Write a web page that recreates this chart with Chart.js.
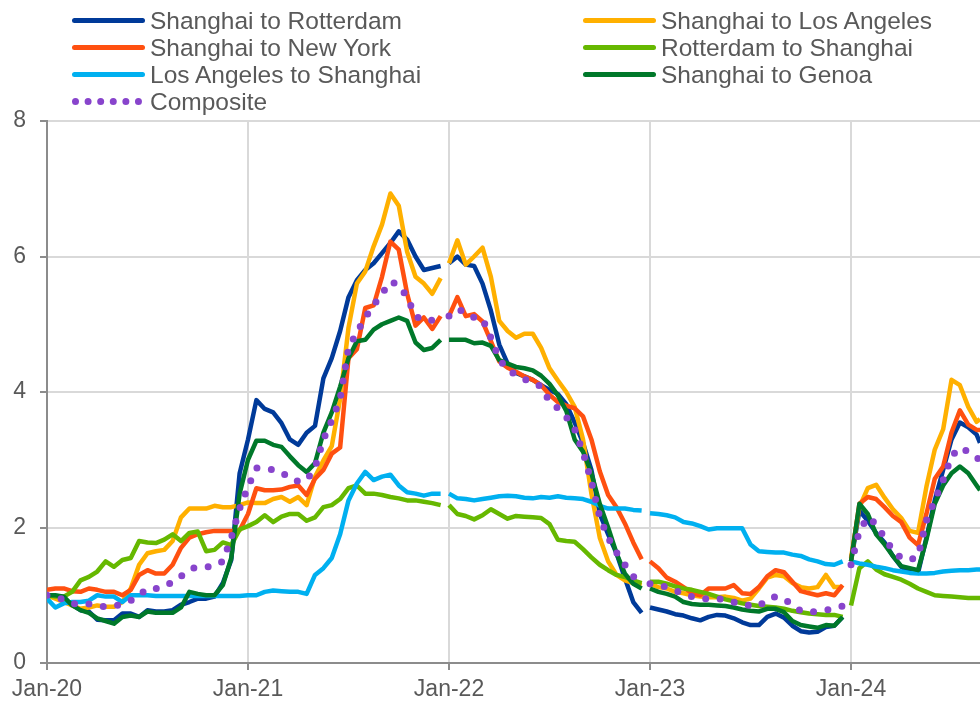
<!DOCTYPE html>
<html>
<head>
<meta charset="utf-8">
<title>Container freight rates</title>
<script src="https://cdn.jsdelivr.net/npm/chart.js@4.4.1/dist/chart.umd.min.js"></script>
<style>
  html, body { margin: 0; padding: 0; background: #fff; }
  #wrap { position: relative; width: 980px; height: 701px; overflow: hidden; }
  #legend { position: absolute; left: 0; top: 0; width: 980px; height: 120px;
            font: 24.5px "Liberation Sans", Arial, sans-serif; color: #595959; }
  .item { position: absolute; display: flex; align-items: center; height: 27px; white-space: nowrap; }
  .swatch { width: 73px; height: 5px; border-radius: 3px; margin-right: 5px; }
  .swatch.dots { height: 0; border-radius: 0; border-top: 7px dotted; width: 70px; margin-right: 8px; }
</style>
</head>
<body>
<div id="wrap">
  <canvas id="chart" width="980" height="701" role="img"
    aria-label="Container freight rate indices by route, Jan 2020 to mid 2024"></canvas>
  <div id="legend"></div>
</div>
<script>
// half-month steps from Jan-20, last point is the right edge of the plot
const months = [...Array(112).keys()].map(i => i / 2).concat(55.7)
// holiday breaks in the weekly data around each new year
const yearBreaks = [23.95, 35.95, 47.95]
const yearTicks = [0, 12, 24, 36, 48]
const tickLabels = ['Jan-20', 'Jan-21', 'Jan-22', 'Jan-23', 'Jan-24']

const shanghaiRotterdam = [
  1.0, 0.98, 0.95, 0.86, 0.78, 0.76, 0.64, 0.63, 0.63, 0.73, 0.73, 0.68, 0.78, 0.76, 0.76, 0.78, 0.86, 0.9, 0.95, 0.95, 0.98, 1.18, 1.52, 2.8,
  3.3, 3.88, 3.75, 3.7, 3.54, 3.3, 3.22, 3.4, 3.5, 4.2, 4.5, 4.9, 5.4, 5.65, 5.8, 5.9, 6.05, 6.2, 6.37, 6.25, 6.0, 5.8, 5.83, 5.86,
  5.9, 6.0, 5.88, 5.86, 5.6, 5.2, 4.7, 4.42, 4.28, 4.23, 4.18, 4.1, 4.03, 3.97, 3.82, 3.55, 3.25, 2.85, 2.2, 1.9, 1.62, 1.25, 0.9, 0.74,
  0.82, 0.79, 0.76, 0.72, 0.7, 0.66, 0.63, 0.68, 0.71, 0.7, 0.66, 0.6, 0.56, 0.56, 0.68, 0.73, 0.67, 0.55, 0.47, 0.45, 0.46, 0.53, 0.55, 0.68,
  1.5, 2.25, 2.1, 1.92, 1.78, 1.58, 1.42, 1.35, 1.33, 1.85, 2.4, 2.85, 3.3, 3.55, 3.48, 3.37, 3.25
]
const shanghaiLosAngeles = [
  1.0, 0.95, 0.9, 0.85, 0.8, 0.82, 0.85, 0.83, 0.83, 0.9, 1.1, 1.45, 1.62, 1.65, 1.67, 1.8, 2.15, 2.28, 2.28, 2.28, 2.32, 2.3, 2.3, 2.33,
  2.37, 2.36, 2.36, 2.42, 2.45, 2.38, 2.45, 2.33, 2.75, 2.99, 3.2, 3.9, 4.95, 5.6, 5.78, 6.15, 6.47, 6.93, 6.75, 6.07, 5.7, 5.6, 5.45, 5.68,
  5.9, 6.24, 5.88, 6.0, 6.13, 5.7, 5.05, 4.9, 4.8, 4.86, 4.86, 4.65, 4.35, 4.17, 4.0, 3.78, 3.3, 2.5, 1.85, 1.5, 1.3, 1.22, 1.18, 1.15,
  1.17, 1.12, 1.1, 1.05, 1.03, 1.0, 0.98, 0.97, 0.97, 0.98, 0.96, 0.92, 0.95, 1.1, 1.26, 1.3, 1.28, 1.18, 1.12, 1.1, 1.12, 1.3, 1.12, 1.12,
  1.55, 2.3, 2.58, 2.63, 2.44, 2.27, 2.14, 1.95, 1.92, 2.6, 3.15, 3.45, 4.18, 4.1, 3.78, 3.56, 3.6
]
const shanghaiNewYork = [
  1.08, 1.1, 1.1, 1.06, 1.05, 1.1, 1.08, 1.05, 1.05, 1.0, 1.08, 1.3, 1.37, 1.32, 1.32, 1.45, 1.7, 1.85, 1.9, 1.93, 1.95, 1.95, 1.95, 1.96,
  2.2, 2.58, 2.55, 2.55, 2.56, 2.6, 2.62, 2.48, 2.72, 2.85, 3.09, 3.18, 4.5, 4.63, 5.24, 5.28, 5.7, 6.22, 6.1, 5.45, 4.98, 5.1, 4.93, 5.12,
  5.12, 5.4, 5.12, 5.15, 5.04, 4.75, 4.45, 4.36, 4.3, 4.23, 4.18, 4.1, 3.96, 3.85, 3.8, 3.76, 3.64, 3.3, 2.83, 2.48, 2.3, 2.06, 1.78, 1.53,
  1.5, 1.4, 1.26, 1.2, 1.12, 1.03, 1.0, 1.1, 1.1, 1.1, 1.15, 1.03, 1.02, 1.12, 1.28, 1.37, 1.34, 1.2, 1.06, 1.03, 1.0, 1.03, 1.0, 1.15,
  1.5, 2.35, 2.45, 2.42, 2.3, 2.17, 2.08, 1.85, 1.74, 2.2, 2.72, 2.9, 3.4, 3.73, 3.52, 3.44, 3.44
]
const rotterdamShanghai = [
  1.0, 0.98, 0.98, 1.05, 1.22, 1.27, 1.35, 1.5, 1.42, 1.52, 1.55, 1.8, 1.78, 1.77, 1.82, 1.9, 1.8, 1.92, 1.94, 1.65, 1.67, 1.78, 1.74, 1.97,
  2.02, 2.08, 2.18, 2.08, 2.16, 2.2, 2.2, 2.1, 2.15, 2.3, 2.33, 2.42, 2.58, 2.62, 2.5, 2.5, 2.48, 2.45, 2.43, 2.4, 2.4, 2.38, 2.36, 2.33,
  2.33, 2.2, 2.17, 2.12, 2.18, 2.27, 2.2, 2.13, 2.17, 2.16, 2.15, 2.14, 2.05, 1.82, 1.8, 1.79, 1.68, 1.56, 1.45, 1.37, 1.3, 1.27, 1.22, 1.18,
  1.2, 1.2, 1.17, 1.13, 1.1, 1.08, 1.05, 1.02, 0.98, 0.94, 0.91, 0.88, 0.86, 0.84, 0.83, 0.82, 0.8, 0.77, 0.75, 0.73, 0.72, 0.71, 0.71, 0.68,
  0.85, 1.4, 1.5, 1.38, 1.31, 1.27, 1.23, 1.17, 1.1, 1.05, 1.0, 0.99, 0.98, 0.97, 0.96, 0.96, 0.96
]
const losAngelesShanghai = [
  0.95, 0.82, 0.88, 0.9, 0.9, 0.92, 1.0, 0.98, 0.98, 0.9, 1.0, 1.0, 1.0, 0.99, 0.99, 0.99, 0.99, 0.99, 0.99, 0.99, 0.99, 0.99, 0.99, 0.99,
  1.0, 1.0, 1.05, 1.07, 1.06, 1.05, 1.05, 1.02, 1.3, 1.4, 1.55, 1.9, 2.4, 2.65, 2.82, 2.7, 2.75, 2.78, 2.62, 2.52, 2.5, 2.47, 2.5, 2.5,
  2.5, 2.43, 2.42, 2.4, 2.42, 2.44, 2.46, 2.47, 2.46, 2.44, 2.43, 2.45, 2.44, 2.46, 2.44, 2.43, 2.42, 2.38, 2.32, 2.28, 2.28, 2.28, 2.26, 2.25,
  2.21, 2.2, 2.18, 2.15, 2.08, 2.06, 2.02, 1.97, 1.99, 1.99, 1.99, 1.99, 1.75, 1.65, 1.64, 1.63, 1.63, 1.6, 1.58, 1.53, 1.5, 1.46, 1.45, 1.5,
  1.5, 1.47, 1.45, 1.42, 1.4, 1.37, 1.35, 1.33, 1.32, 1.32, 1.33, 1.35, 1.36, 1.37, 1.37, 1.38, 1.38
]
const shanghaiGenoa = [
  1.0, 1.0, 0.98, 0.85, 0.78, 0.74, 0.66, 0.62, 0.58, 0.68, 0.7, 0.68, 0.76, 0.74, 0.74, 0.74, 0.82, 1.05, 1.02, 1.0, 1.0, 1.15, 1.55, 2.5,
  3.0, 3.28, 3.28, 3.22, 3.19, 3.05, 2.92, 2.82, 2.95, 3.4, 3.7, 4.08, 4.5, 4.75, 4.77, 4.92, 5.0, 5.05, 5.1, 5.05, 4.73, 4.62, 4.65, 4.77,
  4.77, 4.77, 4.77, 4.72, 4.73, 4.68, 4.47, 4.42, 4.37, 4.35, 4.32, 4.24, 4.12, 3.95, 3.72, 3.3, 3.12, 2.8, 2.35, 2.0, 1.62, 1.32, 1.17, 1.1,
  1.1, 1.05, 1.02, 0.98, 0.9, 0.87, 0.86, 0.86, 0.85, 0.84, 0.82, 0.79, 0.77, 0.76, 0.8, 0.8, 0.75, 0.62, 0.56, 0.54, 0.52, 0.56, 0.55, 0.68,
  1.5, 2.35, 2.2, 1.9, 1.75, 1.58, 1.43, 1.4, 1.37, 1.82, 2.35, 2.62, 2.8, 2.9, 2.8, 2.62, 2.55
]
const composite = [
  1.0, 0.97, 0.94, 0.88, 0.86, 0.87, 0.85, 0.83, 0.84, 0.87, 0.92, 1.0, 1.1, 1.1, 1.12, 1.2, 1.28, 1.38, 1.42, 1.42, 1.43, 1.5, 1.85, 2.28,
  2.6, 2.88, 2.87, 2.85, 2.82, 2.72, 2.68, 2.7, 2.88, 3.3, 3.58, 3.9, 4.65, 4.88, 5.1, 5.28, 5.45, 5.63, 5.58, 5.4, 5.12, 5.05, 5.06, 5.1,
  5.12, 5.22, 5.18, 5.1, 5.08, 4.8, 4.48, 4.33, 4.25, 4.19, 4.14, 4.08, 3.86, 3.76, 3.63, 3.45, 3.11, 2.68, 2.15, 1.85, 1.63, 1.45, 1.28, 1.17,
  1.17, 1.15, 1.12, 1.07, 1.03, 0.98, 0.95, 0.95, 0.95, 0.94, 0.9, 0.86, 0.85, 0.84, 0.94, 0.98, 0.95, 0.85, 0.77, 0.75, 0.76, 0.78, 0.8, 0.84,
  1.45, 1.95, 2.15, 2.05, 1.85, 1.66, 1.55, 1.52, 1.57, 2.1, 2.4, 2.7, 3.05, 3.18, 3.12, 3.03, 3.0
]

const series = [
  { label: 'Shanghai to Rotterdam', values: shanghaiRotterdam, color: '#003a99' },
  { label: 'Shanghai to Los Angeles', values: shanghaiLosAngeles, color: '#ffb000' },
  { label: 'Shanghai to New York', values: shanghaiNewYork, color: '#ff5010' },
  { label: 'Rotterdam to Shanghai', values: rotterdamShanghai, color: '#66b800' },
  { label: 'Los Angeles to Shanghai', values: losAngelesShanghai, color: '#00b0f0' },
  { label: 'Shanghai to Genoa', values: shanghaiGenoa, color: '#00782a' },
  { label: 'Composite', values: composite, color: '#8844cc', dotted: true }
]

function toPoints(values) {
  const pts = months.map((m, i) => ({ x: m, y: values[i] }))
  yearBreaks.forEach(b => pts.push({ x: b, y: null }))
  return pts.sort((a, b) => a.x - b.x)
}

const textColor = '#595959'
const axisColor = '#8c8c8c'
const gridColor = '#d9d9d9'
const font = { family: '"Liberation Sans", Arial, sans-serif', size: 23 }

const datasets = series.map((s, i) => ({
  label: s.label,
  data: toPoints(s.values),
  borderColor: s.color,
  backgroundColor: s.color,
  borderWidth: s.dotted ? 7 : 4.5,
  borderDash: s.dotted ? [0, 14.5] : [],
  borderCapStyle: s.dotted ? 'round' : 'butt',
  borderJoinStyle: 'round',
  pointRadius: 0,
  tension: 0,
  fill: false,
  spanGaps: false,
  order: series.length - i // later series drawn on top
}))

// legend: two columns, filled row by row
const legendEl = document.getElementById('legend')
series.forEach((s, i) => {
  const item = document.createElement('div')
  item.className = 'item'
  item.style.left = (i % 2 === 0 ? 72 : 583) + 'px'
  item.style.top = (7 + 27 * Math.floor(i / 2)) + 'px'
  const sw = document.createElement('span')
  sw.className = s.dotted ? 'swatch dots' : 'swatch'
  if (s.dotted) sw.style.borderTopColor = s.color
  else sw.style.background = s.color
  const txt = document.createElement('span')
  txt.textContent = s.label
  item.appendChild(sw)
  item.appendChild(txt)
  legendEl.appendChild(item)
})

new Chart(document.getElementById('chart'), {
  type: 'line',
  data: { datasets },
  options: {
    responsive: false,
    animation: false,
    events: [],
    layout: { padding: { top: 121, right: 0, bottom: 0, left: 0 } },
    plugins: { legend: { display: false }, tooltip: { enabled: false } },
    scales: {
      x: {
        type: 'linear',
        min: 0,
        max: 55.7,
        afterBuildTicks: s => { s.ticks = yearTicks.map(v => ({ value: v })) },
        afterFit: s => { s.height = 38 },
        ticks: {
          autoSkip: false,
          maxRotation: 0,
          padding: 6,
          color: textColor,
          font,
          callback: v => tickLabels[yearTicks.indexOf(v)]
        },
        grid: { color: gridColor, lineWidth: 2, tickColor: axisColor, tickLength: 7, tickWidth: 2 },
        border: { color: axisColor, width: 2 }
      },
      y: {
        min: 0,
        max: 8,
        afterFit: s => { s.width = 47 },
        ticks: { stepSize: 2, padding: 14, color: textColor, font },
        grid: { color: gridColor, lineWidth: 2, tickColor: axisColor, tickLength: 7, tickWidth: 2 },
        border: { color: axisColor, width: 2 }
      }
    }
  }
})
</script>
</body>
</html>
